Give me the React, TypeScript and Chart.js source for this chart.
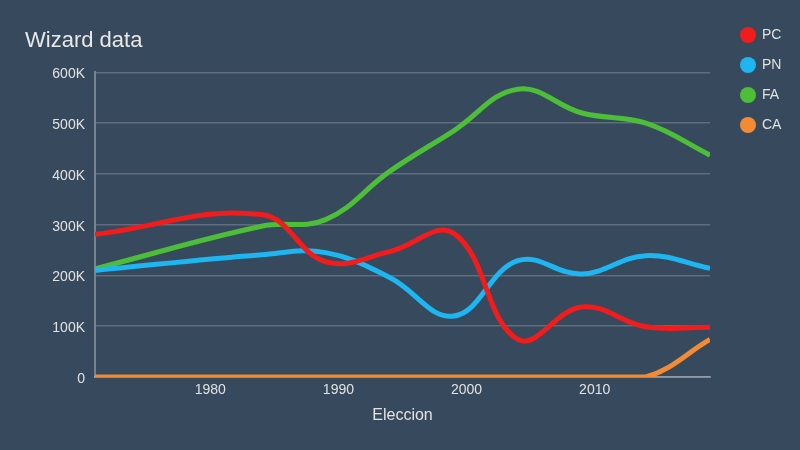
import { useEffect, useRef } from "react";
import { Chart, registerables } from "chart.js";

Chart.register(...registerables);

const years = [1971, 1984, 1989, 1994, 1999, 2004, 2009, 2014, 2019];
const pcVotes = [281000, 320000, 227000, 247000, 283000, 74000, 138000, 99000, 98000];
const pnVotes = [210000, 241000, 245000, 196000, 120000, 229000, 203000, 239000, 214000];
const faVotes = [213000, 297000, 310000, 405000, 485000, 567000, 520000, 500000, 437000];
const caVotes = [0, 0, 0, 0, 0, 0, 0, 0, 74000];
const partyLabels = ["PC", "PN", "FA", "CA"];
const xTickValues = [1980, 1990, 2000, 2010];

const COLORS = ["#f21c1c", "#1db6f0", "#4cbe38", "#f38b35"];
const TEXT = "#e2e2e2";
const BG = "#37495c";

export default function App() {
  const ref = useRef<HTMLCanvasElement>(null);

  useEffect(() => {
    const canvas = ref.current;
    if (!canvas) return;
    Chart.defaults.font.family = "'Liberation Sans', Arial, sans-serif";
    Chart.defaults.color = TEXT;

    const legendShift = {
      id: "legendShift",
      afterLayout(chart: any) {
        const lg = chart.legend;
        if (lg) {
          const w = lg.width;
          lg.left = chart.chartArea.right + 15;
          lg.right = lg.left + w;
        }
      },
    };

    const series = [pcVotes, pnVotes, faVotes, caVotes];
    const chart = new Chart(canvas, {
      type: "line",
      data: {
        datasets: series.map((vals, i) => ({
          label: partyLabels[i],
          data: years.map((y, j) => ({ x: y, y: vals[j] })),
          borderColor: COLORS[i],
          backgroundColor: COLORS[i],
          borderWidth: 5,
          tension: 0.4,
          pointRadius: 0,
          pointHoverRadius: 0,
          fill: false,
        })),
      },
      options: {
        responsive: false,
        animation: false,
        layout: { padding: { left: 25, top: 12, right: 8, bottom: 21 } },
        plugins: {
          title: {
            display: true,
            text: "Wizard data",
            align: "start",
            color: "#e8e8e8",
            font: { size: 22, weight: "normal" },
            padding: { top: 15.5, bottom: 18.5 },
          },
          legend: {
            position: "right",
            align: "start",
            labels: {
              usePointStyle: true,
              pointStyle: "circle",
              boxWidth: 14,
              boxHeight: 11.3,
              padding: 16,
              color: TEXT,
              font: { size: 14 },
              generateLabels: (c: any) =>
                (Chart.defaults.plugins.legend.labels as any)
                  .generateLabels(c)
                  .map((l: any) => ({ ...l, lineWidth: 0, fillStyle: l.strokeStyle, pointStyle: "circle" })),
            },
          },
          tooltip: { enabled: false },
        },
        scales: {
          x: {
            type: "linear",
            min: 1971,
            max: 2019,
            afterBuildTicks: (s: any) => {
              s.ticks = xTickValues.map((value) => ({ value }));
            },
            afterFit: (s: any) => {
              s.paddingRight = 90;
            },
            grid: { display: false, drawTicks: false },
            border: { display: true, color: "rgba(255,255,255,0.32)", width: 2 },
            ticks: {
              color: TEXT,
              font: { size: 14 },
              padding: 5,
              maxRotation: 0,
              callback: (v: any) => String(v),
            },
            title: {
              display: true,
              text: "Eleccion",
              color: TEXT,
              font: { size: 16 },
              padding: { top: 2, bottom: 4 },
            },
          },
          y: {
            min: 0,
            max: 600000,
            afterFit: (s: any) => {
              s.width = 70;
            },
            grid: { color: "rgba(255,255,255,0.2)", drawTicks: false, lineWidth: 1.5 },
            border: { display: true, color: "rgba(255,255,255,0.32)", width: 2 },
            ticks: {
              stepSize: 100000,
              color: TEXT,
              font: { size: 14 },
              padding: 10,
              labelOffset: 2,
              callback: (v: any) => (Number(v) === 0 ? "0" : `${Number(v) / 1000}K`),
            },
          },
        },
      },
      plugins: [legendShift],
    } as any);

    return () => chart.destroy();
  }, []);

  return (
    <div style={{ position: "fixed", left: 0, top: 0, width: 800, height: 450, background: BG }}>
      <canvas ref={ref} width={800} height={450} style={{ display: "block", width: 800, height: 450 }} />
    </div>
  );
}
